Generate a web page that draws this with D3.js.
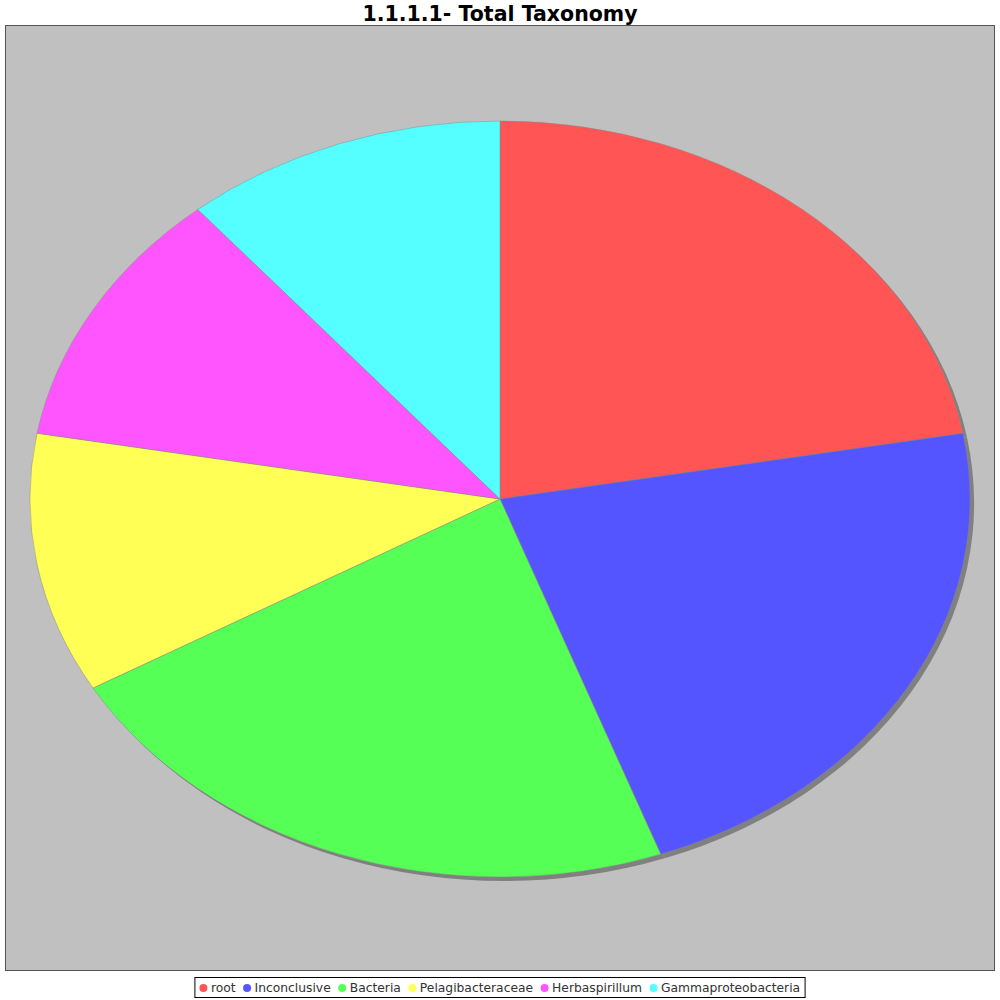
<!DOCTYPE html>
<html><head><meta charset="utf-8">
<script src="https://cdn.jsdelivr.net/npm/d3@7"></script>
<style>body{margin:0;background:#fff}</style>
</head><body>
<svg id="c" width="1000" height="1000"></svg>
<script>
const categories = ["root","Inconclusive","Bacteria","Pelagibacteraceae","Herbaspirillum","Gammaproteobacteria"];
const values = [2,2,2,1,1,1];
const colors = ["#ff5555","#5555ff","#55ff55","#ffff55","#ff55ff","#55ffff"];
const title = "1.1.1.1- Total Taxonomy";

const svg = d3.select("#c");
svg.append("rect").attr("width",1000).attr("height",1000).attr("fill","#fff");
// plot area
svg.append("rect").attr("x",5.5).attr("y",25.5).attr("width",989).attr("height",945)
  .attr("fill","#c0c0c0").attr("stroke","#555").attr("stroke-width",1);
svg.append("text").attr("x",500).attr("y",21).attr("text-anchor","middle")
  .attr("font-family","DejaVu Sans").attr("font-weight","bold").attr("font-size",20.5)
  .text(title);

const cx=500, cy=499, rx=470, ry=378;
const pie = d3.pie().sort(null).value(d=>d)(values);
const arc = d3.arc().innerRadius(0).outerRadius(1);
// shadow
const sh = svg.append("g").attr("transform",`translate(${cx+4},${cy+4}) scale(${rx},${ry})`);
sh.selectAll("path").data(pie).join("path").attr("d",arc).attr("fill","#808080");
const g = svg.append("g").attr("transform",`translate(${cx},${cy}) scale(${rx},${ry})`);
g.selectAll("path").data(pie).join("path").attr("d",arc)
  .attr("fill",(d,i)=>colors[i]).attr("stroke","#888").attr("stroke-width",0.5)
  .attr("vector-effect","non-scaling-stroke");

// legend
const lg = svg.append("g");
const fs = 12.3;
let x = 0;
const items = [];
const tmp = lg.append("g");
categories.forEach((c,i)=>{
  const t = tmp.append("text").attr("font-family","DejaVu Sans").attr("font-size",fs).text(c);
  const w = t.node().getComputedTextLength();
  items.push({c,i,x,w});
  x += 10 + 3 + w + 6;
});
tmp.remove();
const total = x - 6 + 8;
const lx = 500 - total/2;
lg.append("rect").attr("x",lx).attr("y",977.5).attr("width",total).attr("height",20)
  .attr("fill","#fff").attr("stroke","#000").attr("stroke-width",1);
items.forEach(it=>{
  lg.append("circle").attr("cx",lx+4+it.x+4.5).attr("cy",988).attr("r",4).attr("fill",colors[it.i]);
  lg.append("text").attr("x",lx+4+it.x+12).attr("y",992).attr("font-family","DejaVu Sans")
    .attr("font-size",fs).attr("fill","#333").text(it.c);
});
</script>
</body></html>
